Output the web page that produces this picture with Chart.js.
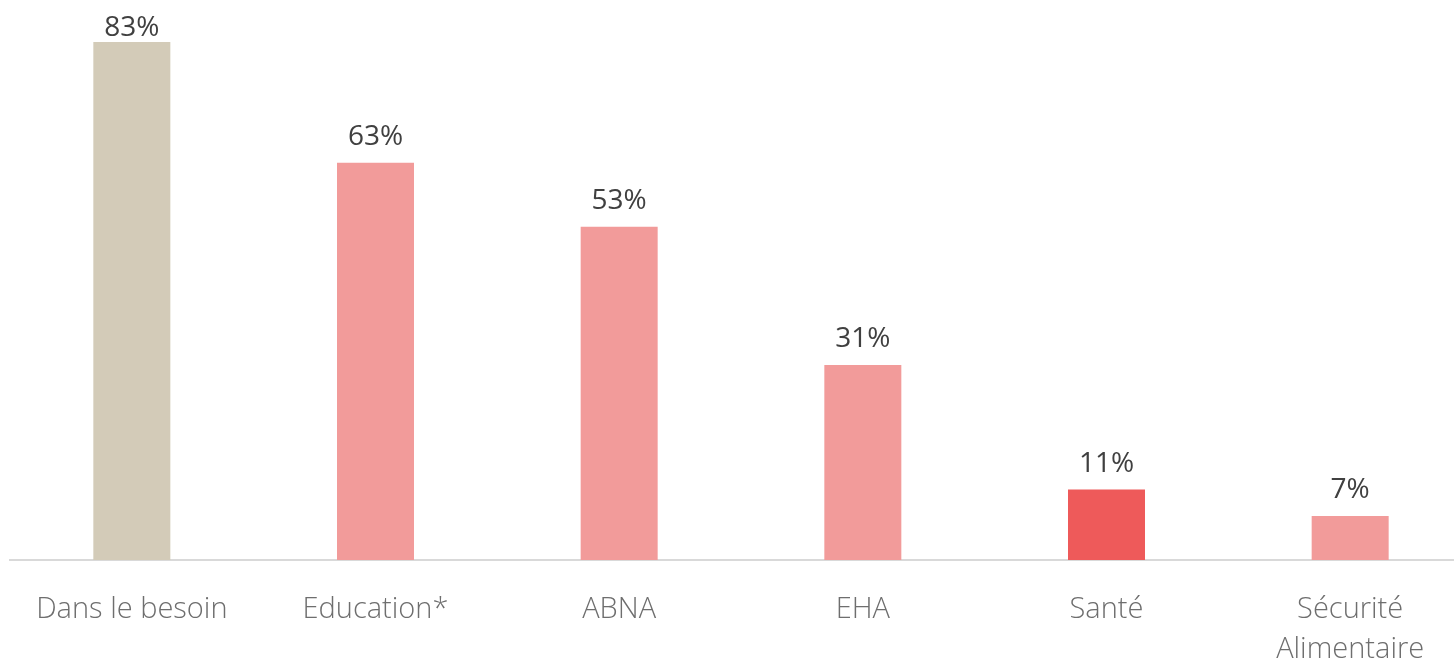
<!DOCTYPE html>
<html>
<head>
<meta charset="utf-8">
<script src="https://cdn.jsdelivr.net/npm/chart.js@4"></script>
<style>
  html, body { margin: 0; padding: 0; background: #fff; overflow: hidden; }
  #wrap { width: 1472px; height: 664px; }
</style>
</head>
<body>
<div id="wrap"><canvas id="chart"></canvas></div>
<script>
const categories = ["Dans le besoin", "Education*", "ABNA", "EHA", "Santé", ["Sécurité", "Alimentaire"]];
const values = [82.4, 63.2, 53, 31, 11.2, 7];
const valueTexts = ["83%", "63%", "53%", "31%", "11%", "7%"];
const barColors = ["#D3CBB8", "#F29B9A", "#F29B9A", "#F29B9A", "#EE5A5A", "#F29B9A"];

const FONT = "'Open Sans', 'DejaVu Sans', sans-serif";

// draws the "83%" labels above each bar
const valueLabels = {
  id: "valueLabels",
  afterDatasetsDraw(chart) {
    const ctx = chart.ctx;
    const meta = chart.getDatasetMeta(0);
    ctx.save();
    ctx.font = "400 28px " + FONT;
    ctx.fillStyle = "#404040";
    ctx.textAlign = "center";
    ctx.textBaseline = "alphabetic";
    meta.data.forEach((bar, i) => {
      // keep the tallest label inside the picture
      ctx.fillText(valueTexts[i], bar.x, Math.max(bar.y - 18, 36));
    });
    ctx.restore();
  }
};

new Chart(document.getElementById("chart"), {
  type: "bar",
  data: {
    labels: categories,
    datasets: [{
      data: values,
      backgroundColor: barColors,
      barPercentage: 0.316,
      categoryPercentage: 1
    }]
  },
  options: {
    responsive: true,
    maintainAspectRatio: false,
    devicePixelRatio: 1,
    animation: false,
    layout: { padding: { top: 42, left: 10, right: 0, bottom: 0 } },
    plugins: { legend: { display: false }, tooltip: { enabled: false } },
    scales: {
      x: {
        grid: { display: false, drawTicks: false },
        border: { display: true, color: "#D9D9D9", width: 2 },
        ticks: {
          color: "#6E6E6E",
          padding: 30,
          maxRotation: 0,
          autoSkip: false,
          font: { family: FONT, size: 29, weight: 300, lineHeight: 1.38 }
        },
        afterFit(scale) { scale.height = 104; }
      },
      y: {
        display: false,
        min: 0,
        max: 82.4
      }
    }
  },
  plugins: [valueLabels]
});
</script>
</body>
</html>
